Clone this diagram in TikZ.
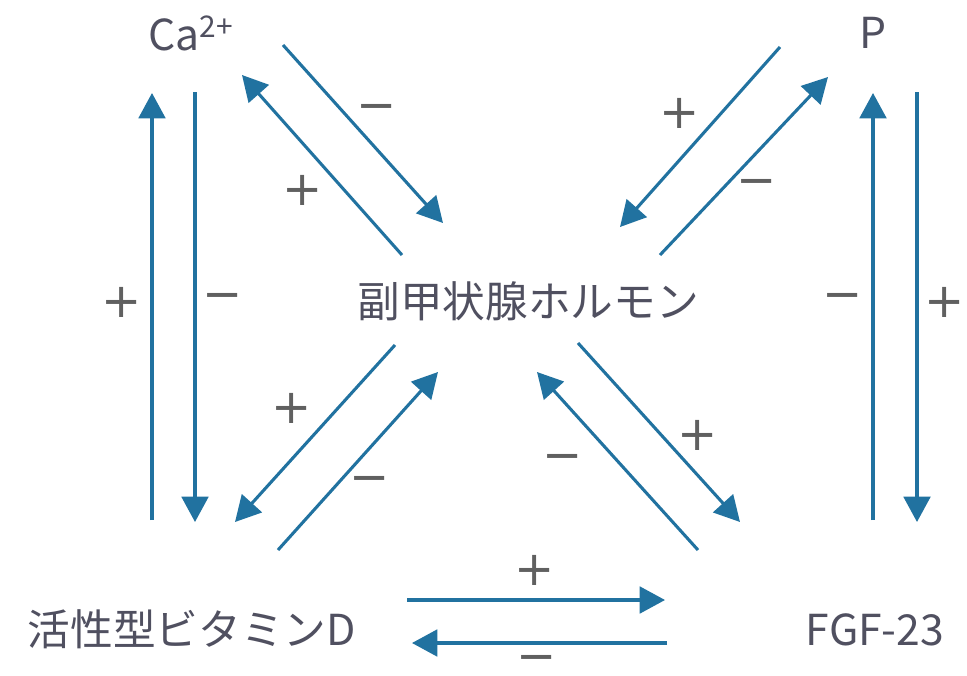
\documentclass[tikz,border=0pt]{standalone}
\usepackage{fontspec}
\setmainfont{Noto Sans CJK JP}
\newfontfamily\signfont{DejaVu Sans}
\usetikzlibrary{arrows.meta}
\definecolor{arr}{HTML}{2172A0}
\definecolor{txt}{HTML}{505060}
\definecolor{sgc}{HTML}{606060}
\begin{document}
\begin{tikzpicture}[x=0.75pt,y=-0.75pt,
  lbl/.style={font=\fontsize{32}{36}\selectfont, text=txt, inner sep=0pt, anchor=base},
  sgn/.style={font=\signfont\fontsize{36}{40}\selectfont, text=sgc, inner sep=0pt, anchor=center},
  conn/.style={draw=arr, line width=2.3pt, -{Triangle[length=19pt,width=20pt]}}]
\useasboundingbox (0,0) rectangle (967,675);
\fill[white] (0,0) rectangle (967,675);
% labels
\node[lbl] (ca) at (191,50) {Ca\textsuperscript{2+}};
\node[lbl] (p) at (873,48) {P};
\node[lbl] (pth) at (528,317) {副甲状腺ホルモン};
\node[lbl] (vd) at (192,645) {活性型ビタミンD};
\node[lbl] (fgf) at (875,645) {FGF-23};
% arrow end points
\coordinate (l1s) at (152,520); \coordinate (l1e) at (152,93);
\coordinate (l2s) at (195,92);  \coordinate (l2e) at (195,522);
\coordinate (r1s) at (873,520); \coordinate (r1e) at (873,93);
\coordinate (r2s) at (917,92);  \coordinate (r2e) at (917,522);
\coordinate (a1s) at (283,45);  \coordinate (a1e) at (443,223);
\coordinate (a2s) at (402,255); \coordinate (a2e) at (242,75);
\coordinate (b1s) at (780,47);  \coordinate (b1e) at (620,227);
\coordinate (b2s) at (660,255); \coordinate (b2e) at (828,77);
\coordinate (c1s) at (395,345); \coordinate (c1e) at (235,522);
\coordinate (c2s) at (278,550); \coordinate (c2e) at (438,372);
\coordinate (d1s) at (578,343); \coordinate (d1e) at (740,522);
\coordinate (d2s) at (698,550); \coordinate (d2e) at (537,372);
\coordinate (h1s) at (407,600); \coordinate (h1e) at (665,600);
\coordinate (h2s) at (667,643); \coordinate (h2e) at (412,643);
% arrows
\foreach \n in {l1,l2,r1,r2,a1,a2,b1,b2,c1,c2,d1,d2,h1,h2}
  \draw[conn] (\n s) -- (\n e);
% signs
\node[sgn] (s1) at (122,302) {+};
\node[sgn] (s2) at (223,302) {−};
\node[sgn] (s3) at (843,302) {−};
\node[sgn] (s4) at (945,302) {+};
\node[sgn] (s5) at (377,113) {−};
\node[sgn] (s6) at (303,190) {+};
\node[sgn] (s7) at (680,113) {+};
\node[sgn] (s8) at (757,188) {−};
\node[sgn] (s9) at (292,408) {+};
\node[sgn] (s10) at (370,485) {−};
\node[sgn] (s11) at (698,435) {+};
\node[sgn] (s12) at (563,463) {−};
\node[sgn] (s13) at (535,570) {+};
\node[sgn] (s14) at (537,664) {−};
\end{tikzpicture}
\end{document}
